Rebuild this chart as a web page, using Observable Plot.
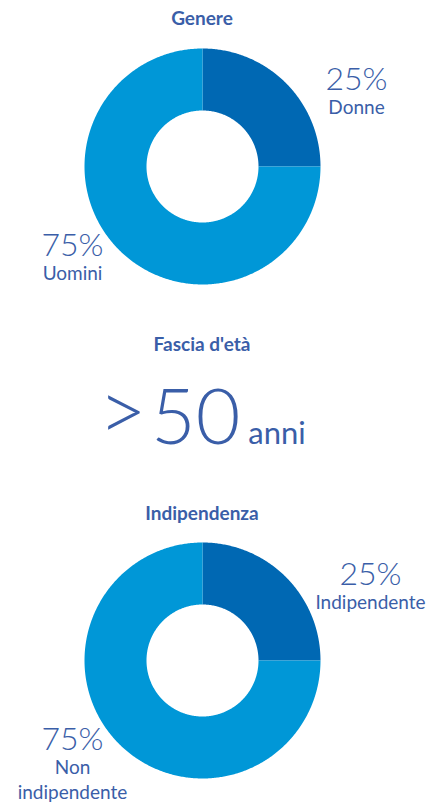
<!DOCTYPE html>
<html><head><meta charset="utf-8">
<script src="https://cdn.jsdelivr.net/npm/d3@7"></script>
<script src="https://cdn.jsdelivr.net/npm/@observablehq/plot@0.6"></script>
<style>
html,body{margin:0;padding:0;background:#fff;}
body{width:432px;height:805px;position:relative;overflow:hidden;font-family:Lato,"Open Sans",sans-serif;color:#3a5ea8;}
.title{position:absolute;left:0;width:404px;text-align:center;font-weight:700;font-size:19px;line-height:23px;}
.chart{position:absolute;left:0;}
.big{position:absolute;left:0;width:404px;text-align:center;font-weight:300;white-space:nowrap;line-height:1;}
</style>
</head><body>
<div class="title" style="top:6px">Genere</div>
<div class="chart" id="c1" style="top:36px"></div>
<div class="title" style="top:332px">Fascia d'età</div>
<div class="big" id="big" style="top:370px"></div>
<div class="title" style="top:501px">Indipendenza</div>
<div class="chart" id="c2" style="top:530px"></div>
<script>
// Data
const genereCategories = ["Donne", "Uomini"];
const genereValues = [25, 75];
const indipCategories = ["Indipendente", "Non indipendente"];
const indipValues = [25, 75];
const etaPrefix = ">";
const etaValue = "50";
const etaUnit = "anni";

const colors = ["#0068b3", "#0097d7"];
const textColor = "#3a5ea8";

function donut(categories, values, labelOpts, H) {
  const W = 432, cx = 202, cy = 130, R = 118, r = 56;
  const pie = d3.pie().sort(null).value(d => d)(values);
  const inner = r / R;
  const pts = [];
  pie.forEach((p, i) => {
    const n = Math.max(8, Math.ceil((p.endAngle - p.startAngle) / 0.01));
    const angles = d3.range(n + 1).map(k => p.startAngle + (p.endAngle - p.startAngle) * k / n);
    angles.forEach(a => pts.push({seg: categories[i], x: Math.sin(a), y: Math.cos(a)}));
    angles.slice().reverse().forEach(a => pts.push({seg: categories[i], x: inner * Math.sin(a), y: inner * Math.cos(a)}));
  });
  const texts = [];
  pie.forEach((p, i) => {
    const o = labelOpts[i];
    texts.push(Plot.text([categories[i]], {
      x: 0, y: 0, dx: o.dx, dy: o.dy - 1,
      text: () => values[i] + "%",
      fontSize: 32, fontWeight: 300, fill: textColor, textAnchor: "middle", lineAnchor: "bottom"
    }));
    texts.push(Plot.text([categories[i]], {
      x: 0, y: 0, dx: o.dx, dy: o.dy + 6,
      text: () => o.text,
      fontSize: 19, fill: textColor, textAnchor: "middle", lineAnchor: "top", lineHeight: 1.3
    }));
  });
  return Plot.plot({
    width: W, height: H,
    margin: 0,
    x: {domain: [-cx / R, (W - cx) / R], axis: null},
    y: {domain: [-(H - cy) / R, cy / R], axis: null},
    color: {domain: categories, range: colors},
    style: {fontFamily: "Lato, 'Open Sans', sans-serif", background: "transparent"},
    marks: [
      Plot.line(pts, {x: "x", y: "y", z: "seg", fill: "seg", stroke: "none", curve: "linear-closed"}),
      ...texts
    ]
  });
}

document.getElementById("c1").append(donut(genereCategories, genereValues, [
  {dx: 154, dy: -76, text: "Donne"},
  {dx: -130, dy: 90, text: "Uomini"}
], 262));
document.getElementById("c2").append(donut(indipCategories, indipValues, [
  {dx: 168, dy: -75, text: "Indipendente"},
  {dx: -130, dy: 90, text: "Non\nindipendente"}
], 275));

const big = document.getElementById("big");
big.innerHTML = `<span style="font-size:84px;position:relative;top:-3px">${etaPrefix}</span><span style="font-size:77px;margin-left:4px">${etaValue}</span><span style="font-size:31px;font-weight:400;margin-left:8px">${etaUnit}</span>`;
</script>
</body></html>
